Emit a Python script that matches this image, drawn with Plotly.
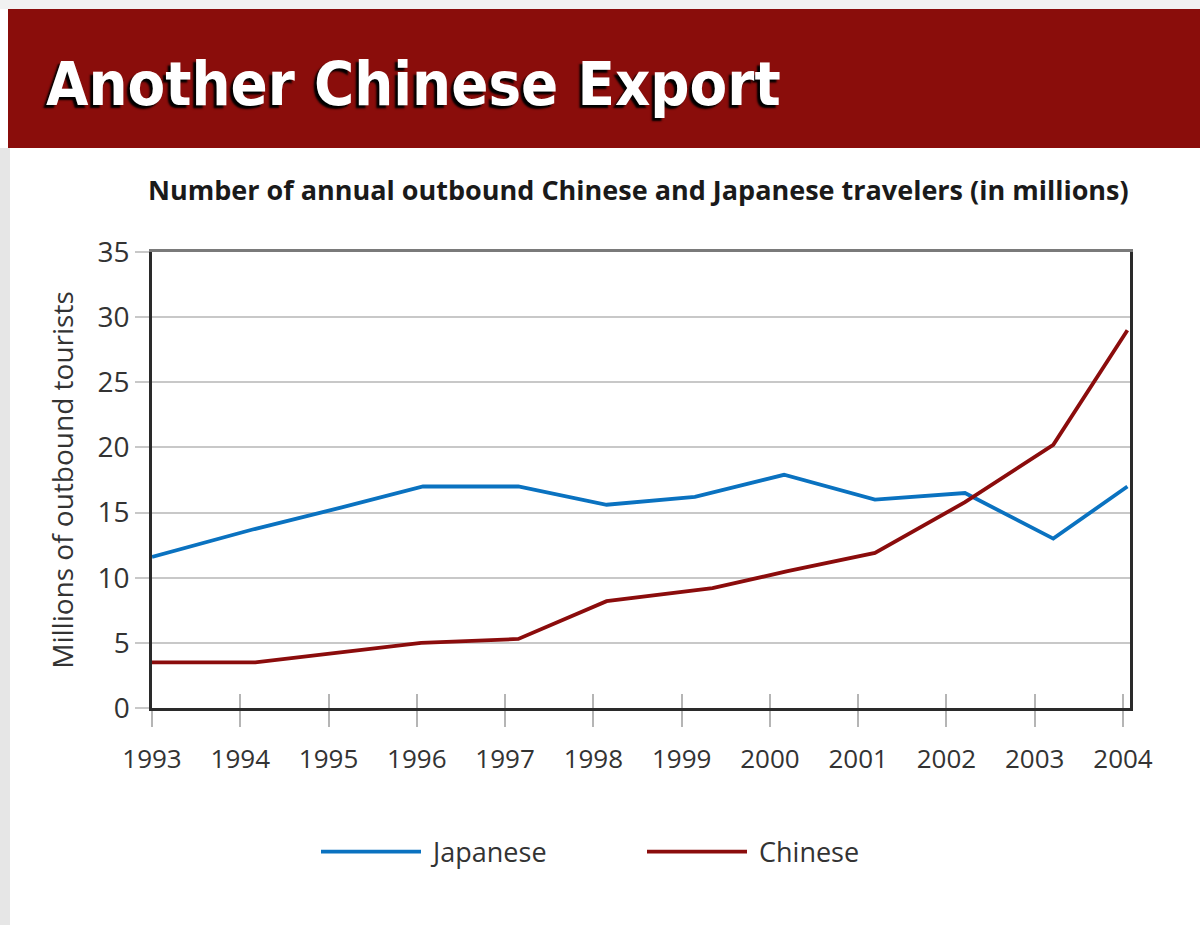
import plotly.graph_objects as go

# ---- data ----
years = [1993, 1994, 1995, 1996, 1997, 1998, 1999, 2000, 2001, 2002, 2003, 2004]
year_labels = [str(y) for y in years]

japanese_x = [1993.0, 1994.14, 1995.15, 1996.07, 1997.15, 1998.15, 1999.15, 2000.16, 2001.19, 2002.21, 2003.21, 2004.05]
japanese = [11.6, 13.7, 15.4, 17.0, 17.0, 15.6, 16.2, 17.9, 16.0, 16.5, 13.0, 17.0]

chinese_x = [1993.0, 1994.17, 1996.05, 1997.15, 1998.15, 1999.35, 2000.2, 2001.19, 2002.21, 2003.21, 2004.05]
chinese = [3.5, 3.5, 5.0, 5.3, 8.2, 9.2, 10.5, 11.9, 15.8, 20.2, 29.0]

y_ticks = [0, 5, 10, 15, 20, 25, 30, 35]

# ---- layout geometry ----
W, H = 1200, 925
L, R, T, B = 152, 1130, 252, 708
PW, PH = R - L, B - T


def px(x):
    return (x - L) / PW


def py(y):
    return (B - y) / PH


BLUE = "#0a72c0"
RED = "#8b0c0c"
BANNER = "#8a0d0b"
FONT = "Open Sans, Liberation Sans, sans-serif"

fig = go.Figure()
fig.add_trace(go.Scatter(x=japanese_x, y=japanese, mode="lines", name=" Japanese",
                         line=dict(color=BLUE, width=3.8), cliponaxis=True))
fig.add_trace(go.Scatter(x=chinese_x, y=chinese, mode="lines", name=" Chinese",
                         line=dict(color=RED, width=3.8), cliponaxis=True))

x_end = 1993 + (R - L) / ((1123 - L) / 11)

fig.update_layout(
    width=W, height=H,
    margin=dict(l=L, r=W - R, t=T, b=H - B, pad=0),
    paper_bgcolor="white", plot_bgcolor="white",
    font=dict(family=FONT, color="#222"),
    showlegend=True,
    legend=dict(orientation="h", x=px(316), xanchor="left", y=py(852), yanchor="middle",
                font=dict(size=27, color="#333"), itemwidth=100, entrywidth=211,
                traceorder="normal", bgcolor="rgba(0,0,0,0)"),
    xaxis=dict(range=[1993, x_end], tickmode="array", tickvals=years, ticktext=year_labels,
               ticks="outside", ticklen=16, tickwidth=2, tickcolor="#b5b5b5",
               showline=True, linecolor="#2a2a2a", linewidth=2.5, mirror=False,
               showgrid=False, zeroline=False, ticklabelstandoff=10,
               tickfont=dict(size=26, color="#333")),
    xaxis2=dict(range=[1993, x_end], overlaying="x", anchor="y", side="bottom",
                tickmode="array", tickvals=years, ticks="inside", ticklen=14, tickwidth=2,
                tickcolor="#b5b5b5", showticklabels=False, showgrid=False, zeroline=False,
                showline=False),
    xaxis3=dict(range=[1993, x_end], overlaying="x", anchor="y", side="top",
                showticklabels=False, ticks="", showgrid=False, zeroline=False,
                showline=True, linecolor="#7a7a7a", linewidth=3),
    yaxis=dict(range=[0, 35], tickmode="array", tickvals=y_ticks,
               ticks="outside", ticklen=14, tickwidth=2, tickcolor="#c8c8c8",
               showline=True, linecolor="#2a2a2a", linewidth=2.5, mirror=True,
               showgrid=True, gridcolor="#c8c8c8", gridwidth=2, zeroline=False,
               tickfont=dict(size=28, color="#333"),
               title=dict(text="Millions of outbound tourists", standoff=16,
                          font=dict(size=28, color="#333"))),
)

# invisible anchors for the overlay axes
fig.add_trace(go.Scatter(x=[1993], y=[0], xaxis="x2", yaxis="y", mode="markers",
                         marker=dict(opacity=0), showlegend=False, hoverinfo="skip"))
fig.add_trace(go.Scatter(x=[1993], y=[0], xaxis="x3", yaxis="y", mode="markers",
                         marker=dict(opacity=0), showlegend=False, hoverinfo="skip"))

shapes = [
    dict(type="rect", xref="paper", yref="paper", x0=px(0), x1=px(W), y0=py(0), y1=py(9),
         fillcolor="#f1f1f1", line=dict(width=0), layer="below"),
    dict(type="rect", xref="paper", yref="paper", x0=px(0), x1=px(10), y0=py(148), y1=py(925),
         fillcolor="#e6e6e6", line=dict(width=0), layer="below"),
    dict(type="rect", xref="paper", yref="paper", x0=px(8), x1=px(W), y0=py(9), y1=py(148),
         fillcolor=BANNER, line=dict(width=0), layer="below"),
]
fig.update_layout(shapes=shapes)

fig.add_annotation(text="<b>Another Chinese Export</b>", xref="paper", yref="paper",
                   x=px(44), xanchor="left", y=py(84), yanchor="middle", showarrow=False,
                   font=dict(family="Liberation Sans Narrow, DejaVu Sans Condensed, Open Sans, sans-serif",
                             size=61, color="white", shadow="-3px 3px 2px #000"))
fig.add_annotation(text="<b>Number of annual outbound Chinese and Japanese travelers (in millions)</b>",
                   xref="paper", yref="paper", x=px(638), xanchor="center", y=py(189),
                   yanchor="middle", showarrow=False,
                   font=dict(family=FONT, size=27, color="#1a1a1a"))

fig.write_html("out.html")
